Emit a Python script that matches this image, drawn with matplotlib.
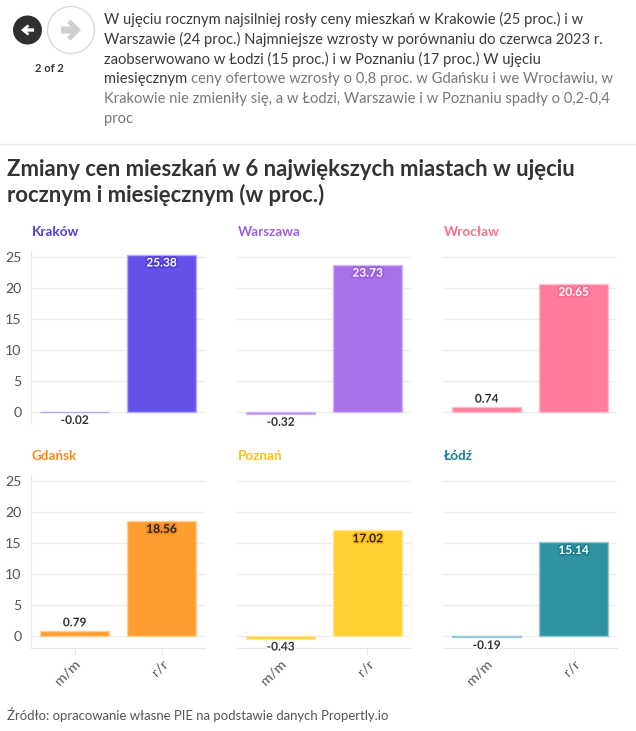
import matplotlib
matplotlib.use("Agg")
import matplotlib.pyplot as plt
import matplotlib.patheffects as pe
from matplotlib.patches import Circle, Polygon
from matplotlib.transforms import ScaledTranslation

W, H = 636, 731
cities = ["Kraków", "Warszawa", "Wrocław", "Gdańsk", "Poznań", "Łódź"]
periods = ["m/m", "r/r"]
mm = [-0.02, -0.32, 0.74, 0.79, -0.43, -0.19]
rr = [25.38, 23.73, 20.65, 18.56, 17.02, 15.14]
bar_colors = ["#6351EA", "#A771E9", "#FF7C9C", "#FF9D30", "#FFD030", "#2F93A1"]
edge_colors = ["#B5ACF5", "#D3B8F4", "#FFBDCE", "#FFCE98", "#FFE798", "#97C9D0"]
title_colors = ["#4F3FD2", "#9A60E2", "#F76F90", "#F58B1E", "#FBBE12", "#1B7F8E"]
label_dark = [False, False, False, True, True, False]
yticks = [0, 5, 10, 15, 20, 25]
body_dark = ["W ujęciu rocznym najsilniej rosły ceny mieszkań w Krakowie (25 proc.) i w",
             "Warszawie (24 proc.) Najmniejsze wzrosty w porównaniu do czerwca 2023 r.",
             "zaobserwowano w Łodzi (15 proc.) i w Poznaniu (17 proc.) W ujęciu",
             "miesięcznym"]
body_grey = ["ceny ofertowe wzrosły o 0,8 proc. w Gdańsku i we Wrocławiu, w",
             "Krakowie nie zmieniły się, a w Łodzi, Warszawie i w Poznaniu spadły o 0,2-0,4",
             "proc"]
title_lines = ["Zmiany cen mieszkań w 6 największych miastach w ujęciu",
               "rocznym i miesięcznym (w proc.)"]
source = "Źródło: opracowanie własne PIE na podstawie danych Propertly.io"

plt.rcParams["font.family"] = ["Lato", "DejaVu Sans"]
fig = plt.figure(figsize=(W / 100, H / 100), dpi=100, facecolor="white")

bg = fig.add_axes([0, 0, 1, 1])
bg.set_xlim(0, W); bg.set_ylim(H, 0); bg.axis("off")

# navigation
bg.add_patch(Circle((27.5, 30), 14.5, fc="#2F2F2F", ec="none"))
bg.add_patch(Circle((71, 30), 23.5, fc="white", ec="#DADADA", lw=1))
left = [(21, 30), (27.5, 24.5), (29.5, 26.5), (27, 28.3), (34, 28.3), (34, 31.7),
        (27, 31.7), (29.5, 33.5), (27.5, 35.5)]
bg.add_patch(Polygon(left, fc="white", ec="none"))
right = [(81, 30), (70.5, 19.5), (67, 23), (71, 26.5), (61, 26.5), (61, 33.5),
         (71, 33.5), (67, 37), (70.5, 40.5)]
bg.add_patch(Polygon(right, fc="#CFCFCF", ec="none"))
bg.text(49, 69, "2 of 2", fontsize=8, fontweight="bold", color="#333333", ha="center", va="center")

# body text
line_y = [19, 39, 59, 79, 99, 119]
fs_body = 10.6
t = None
for i, s in enumerate(body_dark):
    t = bg.text(104, line_y[i], s, fontsize=fs_body, color="#3A3A3A", va="center", ha="left")
fig.canvas.draw()
ext = t.get_window_extent()
bg.text(ext.x1 + 3.5, line_y[3], body_grey[0], fontsize=fs_body, color="#777777", va="center", ha="left")
bg.text(104, line_y[4], body_grey[1], fontsize=fs_body, color="#777777", va="center", ha="left")
bg.text(104, line_y[5], body_grey[2], fontsize=fs_body, color="#777777", va="center", ha="left")

bg.plot([0, W], [143.5, 143.5], color="#EAEAEA", lw=1)

bg.text(7, 169, title_lines[0], fontsize=15.9, fontweight="bold", color="#333333", va="center", ha="left")
bg.text(7, 195, title_lines[1], fontsize=15.9, fontweight="bold", color="#333333", va="center", ha="left")
bg.text(7, 715, source, fontsize=9.45, color="#555555", va="center", ha="left")

# panels
lefts = [31, 237, 443]
tops = [250.5, 474.5]
pw, ph = 174, 173
ymin, ymax = -1.85, 26.05
for i, city in enumerate(cities):
    col, row = i % 3, i // 3
    ax = fig.add_axes([lefts[col] / W, 1 - (tops[row] + ph) / H, pw / W, ph / H])
    ax.patch.set_alpha(0)
    vals = [mm[i], rr[i]]
    ax.bar(range(2), vals, width=0.8, color=bar_colors[i], edgecolor=edge_colors[i], linewidth=1, zorder=3)
    ax.set_xlim(-0.5, 1.5); ax.set_ylim(ymin, ymax)
    ax.set_yticks(yticks)
    ax.grid(axis="y", color="#EDEDED", lw=1, zorder=0)
    ax.set_axisbelow(True)
    for s in ["top", "right", "left", "bottom"]:
        ax.spines[s].set_visible(False)
    if col == 0:
        ax.spines["left"].set_visible(True)
        ax.spines["left"].set_color("#E8E8E8")
    ax.tick_params(axis="y", length=0, labelsize=10.2, labelcolor="#555555", pad=7,
                   labelleft=col == 0)
    if row == 1:
        ax.spines["bottom"].set_visible(True)
        ax.spines["bottom"].set_color("#E8E8E8")
        ax.set_xticks(range(2), periods, rotation=45, ha="right", va="center", rotation_mode="anchor")
        ax.tick_params(axis="x", length=5, color="#E8E8E8", labelsize=10.4, labelcolor="#555555", pad=5)
        shift = ScaledTranslation(4 / 100, 0, fig.dpi_scale_trans)
        for lab in ax.get_xticklabels():
            lab.set_transform(lab.get_transform() + shift)
    else:
        ax.spines["bottom"].set_visible(True)
        ax.spines["bottom"].set_color("#FFFFFF")
        ax.set_xticks([])

    for x, v in enumerate(vals):
        if x == 1:
            color = "#222222" if label_dark[i] else "white"
            ax.annotate(f"{v:.2f}", (x, v), xytext=(0, -6), textcoords="offset points",
                        ha="center", va="center", fontsize=8.6, fontweight="bold", color=color, zorder=5,
                        path_effects=[pe.withStroke(linewidth=2.5, foreground=title_colors[i])])
        else:
            off = 6 if v > 0 else -6
            ax.annotate(f"{v:.2f}", (x, v), xytext=(0, off), textcoords="offset points",
                        ha="center", va="center", fontsize=8.6, fontweight="bold", color="#333333", zorder=5,
                        path_effects=[pe.withStroke(linewidth=2, foreground="white")])
    bg.text(lefts[col] + 0.5, tops[row] - 18.5, city, fontsize=9.7, fontweight="bold",
            color=title_colors[i], va="center", ha="left")

fig.savefig("out.png", dpi=100, facecolor="white")
